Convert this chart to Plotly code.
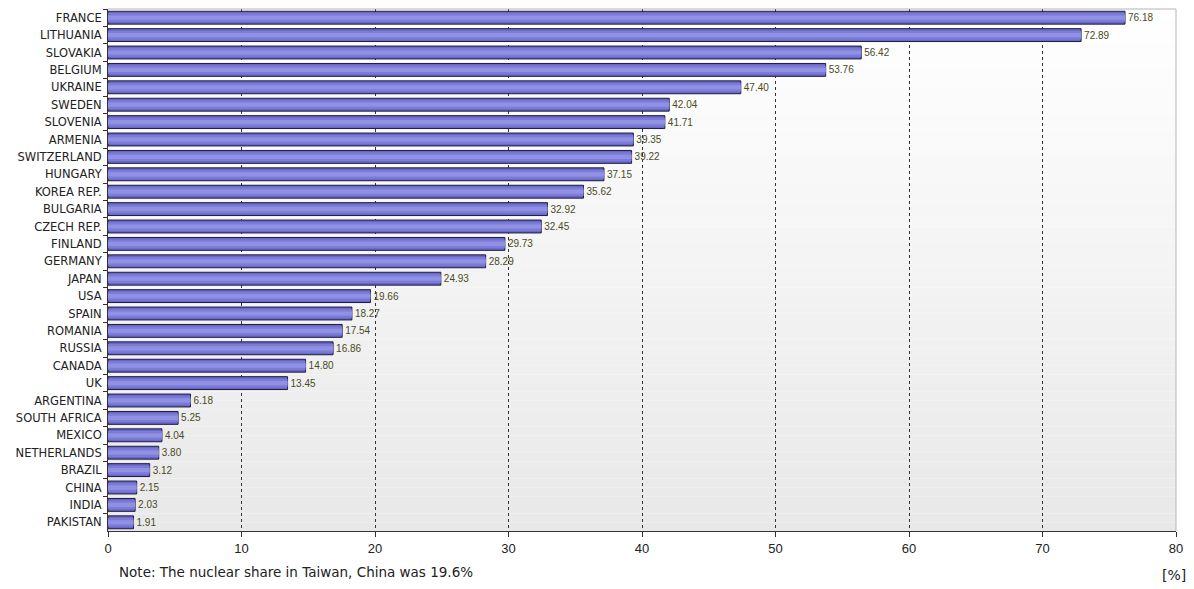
import plotly.graph_objects as go

countries = ["FRANCE", "LITHUANIA", "SLOVAKIA", "BELGIUM", "UKRAINE", "SWEDEN", "SLOVENIA",
             "ARMENIA", "SWITZERLAND", "HUNGARY", "KOREA REP.", "BULGARIA", "CZECH REP.",
             "FINLAND", "GERMANY", "JAPAN", "USA", "SPAIN", "ROMANIA", "RUSSIA", "CANADA",
             "UK", "ARGENTINA", "SOUTH AFRICA", "MEXICO", "NETHERLANDS", "BRAZIL", "CHINA",
             "INDIA", "PAKISTAN"]
shares = [76.18, 72.89, 56.42, 53.76, 47.40, 42.04, 41.71, 39.35, 39.22, 37.15, 35.62,
          32.92, 32.45, 29.73, 28.29, 24.93, 19.66, 18.27, 17.54, 16.86, 14.80, 13.45,
          6.18, 5.25, 4.04, 3.80, 3.12, 2.15, 2.03, 1.91]
x_ticks = [0, 10, 20, 30, 40, 50, 60, 70, 80]

fig = go.Figure()
fig.add_trace(go.Bar(
    y=countries, x=shares, orientation="h", width=0.74,
    marker=dict(color="#6868c8", line=dict(color="#1c1c3c", width=1)),
    text=[f"{v:.2f}" for v in shares], textposition="outside", cliponaxis=False,
    textfont=dict(family="Liberation Sans, Arial", size=10, color="#4a4a1e"),
    hoverinfo="x+y",
))
fig.add_trace(go.Bar(
    y=countries, x=shares, orientation="h", width=0.5,
    marker=dict(color="#7c7cd8", line=dict(width=0)),
    hoverinfo="skip", showlegend=False,
))
fig.add_trace(go.Bar(
    y=countries, x=shares, orientation="h", width=0.24,
    marker=dict(color="#9090e4", line=dict(width=0)),
    hoverinfo="skip", showlegend=False,
))

# background gradient (white top -> light gray bottom)
n = 60
shapes = []
for i in range(n):
    t = (i + 0.5) / n
    g = int(round(255 - (255 - 232) * t))
    shapes.append(dict(type="rect", xref="paper", yref="paper", x0=0, x1=1,
                       y0=1 - (i + 1) / n, y1=1 - i / n, layer="below",
                       fillcolor=f"rgb({g},{g},{g})", line=dict(width=0)))
# top and right light border
shapes.append(dict(type="line", xref="paper", yref="paper", x0=0, x1=1, y0=1, y1=1,
                   line=dict(color="#b4b4b4", width=1), layer="above"))
shapes.append(dict(type="line", xref="paper", yref="paper", x0=1, x1=1, y0=0, y1=1,
                   line=dict(color="#b4b4b4", width=1), layer="above"))

fig.update_layout(
    width=1194, height=589,
    margin=dict(l=108, r=18, t=9, b=58),
    paper_bgcolor="white", plot_bgcolor="white",
    barmode="overlay", showlegend=False,
    font=dict(family="DejaVu Sans, Liberation Sans", size=11, color="#222222"),
    shapes=shapes,
    xaxis=dict(range=[0, 80], tickvals=x_ticks, showgrid=True, gridcolor="#333333",
               griddash="3px,3px", gridwidth=1, showline=True, linecolor="#333333",
               linewidth=1, ticks="outside", ticklen=5, tickcolor="#333333",
               tickfont=dict(family="Liberation Sans, Arial", size=13, color="#222222"),
               zeroline=False, fixedrange=True),
    yaxis=dict(autorange="reversed", showline=True, linecolor="#333333", linewidth=1,
               ticks="outside", tickson="boundaries", ticklen=4, tickcolor="#333333",
               tickfont=dict(family="DejaVu Sans", size=11.5, color="#222222"),
               showgrid=False, ticklabelstandoff=3),
    annotations=[
        dict(text="Note: The nuclear share in Taiwan, China was 19.6%", xref="paper",
             yref="paper", x=(117 - 108) / 1068, y=-(572 - 531) / 522, xanchor="left",
             yanchor="middle", showarrow=False,
             font=dict(family="DejaVu Sans", size=13.5, color="#222222")),
        dict(text="[%]", xref="paper", yref="paper", x=(1174 - 108) / 1068,
             y=-(575 - 531) / 522, xanchor="center", yanchor="middle", showarrow=False,
             font=dict(family="DejaVu Sans", size=14, color="#222222")),
    ],
)
fig.write_html("out.html")
